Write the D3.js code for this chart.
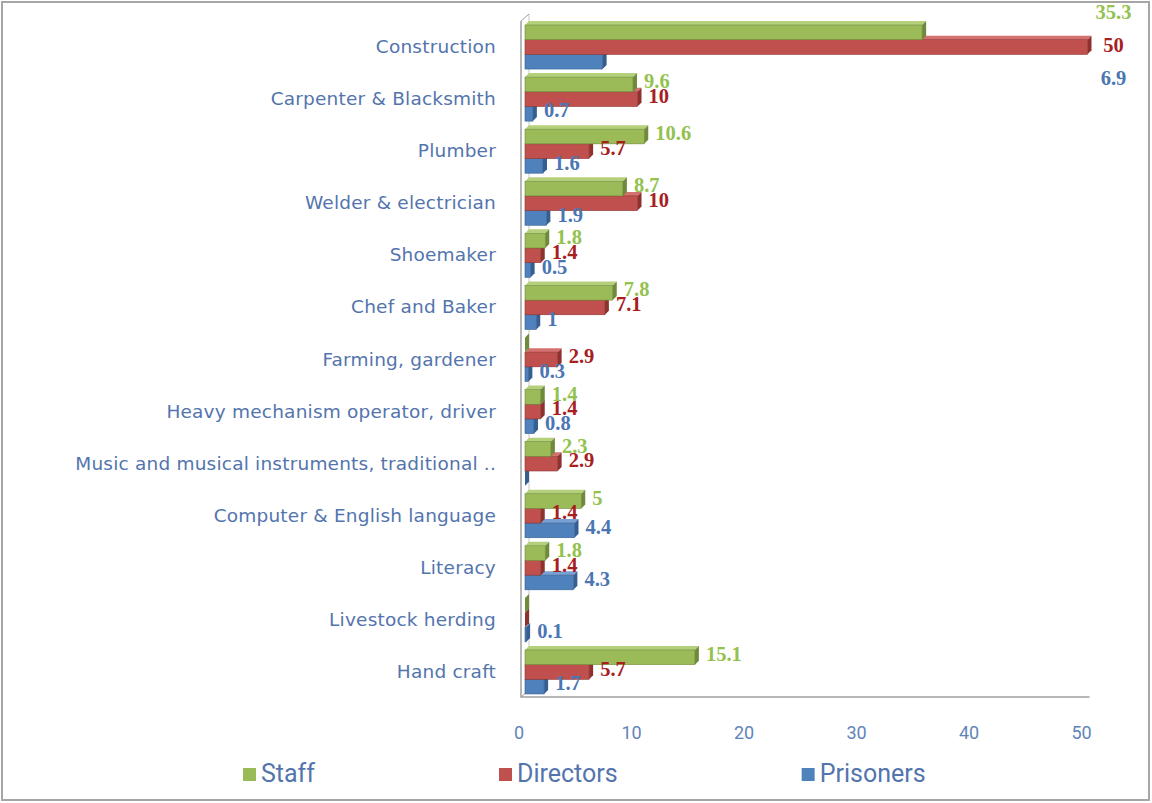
<!DOCTYPE html>
<html>
<head>
  <meta charset="UTF-8">
  <title>Vocational training by group</title>
  <script src="https://d3js.org/d3.v7.min.js"></script>
  <style>
    body { margin: 0; background: #fff; }
    .cat { font-family: "DejaVu Sans", sans-serif; font-size: 18.5px; letter-spacing: 0.2px; fill: #5374ad; }
    .tick-label { font-family: Roboto, sans-serif; font-size: 18px; fill: #6184b8; }
    .val { font-family: "Liberation Serif", serif; font-size: 20.5px; font-weight: bold; }
    .legend-text { font-family: Roboto, sans-serif; font-size: 25px; fill: #5374ad; }
  </style>
</head>
<body>
  <div id="chart"></div>
  <script>
    const categories = [
      "Construction", "Carpenter & Blacksmith", "Plumber", "Welder & electrician",
      "Shoemaker", "Chef and Baker", "Farming, gardener", "Heavy mechanism operator, driver",
      "Music and musical instruments, traditional ..", "Computer & English language",
      "Literacy", "Livestock herding", "Hand craft"
    ];
    const seriesNames = ["Staff", "Directors", "Prisoners"];
    const staff     = [35.3, 9.6, 10.6, 8.7, 1.8, 7.8, 0, 1.4, 2.3, 5, 1.8, 0, 15.1];
    const directors = [50, 10, 5.7, 10, 1.4, 7.1, 2.9, 1.4, 2.9, 1.4, 1.4, 0, 5.7];
    const prisoners = [6.9, 0.7, 1.6, 1.9, 0.5, 1, 0.3, 0.8, 0, 4.4, 4.3, 0.1, 1.7];
    const xTicks = [0, 10, 20, 30, 40, 50];

    const series = [staff, directors, prisoners];
    const fills = ["#9bbb59", "#c0504d", "#4f81bd"];
    const sides = ["#6f8a3a", "#8e3230", "#365f91"];
    const tops  = ["#b5d07a", "#d4706d", "#78a0d2"];
    const labelColors = ["#93c24e", "#a8201e", "#4a76b4"];

    const W = 1152, H = 803;
    const depth = 4;

    const svg = d3.select("#chart").append("svg")
      .attr("width", W).attr("height", H);

    // outer frame
    svg.append("rect")
      .attr("x", 2).attr("y", 2).attr("width", W - 5).attr("height", H - 5)
      .attr("fill", "#fff").attr("stroke", "#a6a6a6").attr("stroke-width", 2);

    const x = d3.scaleLinear().domain([0, 50]).range([525, 1087.5]);
    const y = d3.scaleBand().domain(categories).range([22, 699]);
    const inner = d3.scaleBand().domain(seriesNames).range([0, 44]);
    const barH = inner.bandwidth();
    const groupTop = c => y(c) + y.bandwidth() / 2 - 1 - 22;

    // walls / floor
    const wall = svg.append("g").attr("stroke", "#a0a0a0").attr("fill", "none");
    wall.append("path").attr("stroke-width", 1.5)
      .attr("d", `M${x(0) - 4},21 L${x(0) - 4},697 L${x(50) + 2},697`);
    wall.append("path").attr("stroke", "#c8c8c8")
      .attr("d", `M${x(0) + 4},14 L${x(0) + 4},690`);
    wall.append("path").attr("d", `M${x(0) - 4},21 L${x(0) + 4},14 M${x(0) - 4},697 L${x(0) + 4},690`);

    // x tick labels
    svg.selectAll(".tick-label").data(xTicks).join("text")
      .attr("class", "tick-label")
      .attr("x", d => x(d) - 6).attr("y", 734)
      .attr("text-anchor", "middle").attr("dominant-baseline", "middle")
      .text(d => d);

    // category labels
    svg.selectAll(".cat").data(categories).join("text")
      .attr("class", "cat")
      .attr("x", 496).attr("y", d => y(d) + y.bandwidth() / 2)
      .attr("text-anchor", "end").attr("dominant-baseline", "middle")
      .text(d => d);

    // bars, drawn bottom series first so upper bars cover lower top faces
    const bars = svg.append("g");
    categories.forEach((c, ci) => {
      [2, 1, 0].forEach(si => {
        const v = series[si][ci];
        const y0 = groupTop(c) + inner(seriesNames[si]);
        const x0 = x(0), x1 = x(v);
        const g = bars.append("g");
        g.append("path").attr("fill", tops[si])
          .attr("d", `M${x0},${y0} L${x0 + depth},${y0 - depth} L${x1 + depth},${y0 - depth} L${x1},${y0} Z`);
        g.append("rect").attr("x", x0).attr("y", y0)
          .attr("width", x1 - x0).attr("height", barH)
          .attr("fill", fills[si]).attr("stroke", sides[si]).attr("stroke-width", 0.6);
        g.append("path").attr("fill", sides[si])
          .attr("d", `M${x1},${y0} L${x1 + depth},${y0 - depth} L${x1 + depth},${y0 + barH - depth} L${x1},${y0 + barH} Z`);
      });
    });

    // value labels
    const labels = svg.append("g");
    const xMax = x.domain()[1];
    categories.forEach((c, ci) => {
      const full = d3.max(series, s => s[ci]) >= xMax;
      series.forEach((s, si) => {
        const v = s[ci];
        if (v === 0) return;
        const yc = groupTop(c) + inner(seriesNames[si]) + barH / 2 - 1;
        const t = labels.append("text").attr("class", "val")
          .attr("fill", labelColors[si]).attr("dominant-baseline", "middle")
          .text(v);
        if (full) {
          t.attr("x", x(xMax) + 26).attr("text-anchor", "middle")
            .attr("y", groupTop(c) + 22 + (si - 1) * 33);
        } else {
          t.attr("x", x(v) + depth + 7).attr("y", yc);
        }
      });
    });

    // legend
    const legend = svg.append("g");
    let lx = 243;
    seriesNames.forEach((name, i) => {
      legend.append("rect").attr("x", lx).attr("y", 768)
        .attr("width", 13).attr("height", 13).attr("fill", fills[i]);
      const t = legend.append("text").attr("class", "legend-text")
        .attr("x", lx + 18).attr("y", 775).attr("dominant-baseline", "middle")
        .text(name);
      lx = lx + 18 + t.node().getComputedTextLength() + 184;
    });
  </script>
</body>
</html>
